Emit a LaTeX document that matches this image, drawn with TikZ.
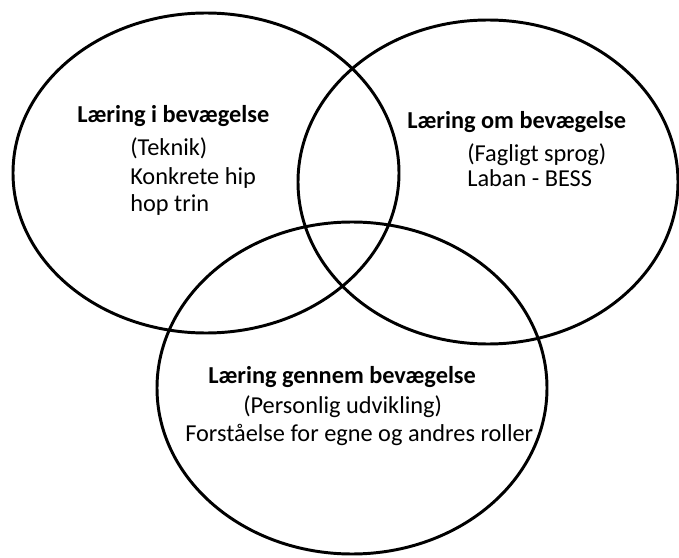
\documentclass[tikz,border=0pt]{standalone}
\usepackage{fontspec}
\setmainfont{Carlito}
\usetikzlibrary{positioning}

\begin{document}
\begin{tikzpicture}[x=0.025cm, y=-0.025cm]
    % Stilarter til ringe og tekst
    \tikzset{
        ring/.style={draw=black, line width=2.1pt},
        titel/.style={font=\fontsize{17.3}{20}\selectfont\bfseries, inner sep=0pt, anchor=base west},
        tekst/.style={font=\fontsize{17.3}{20}\selectfont, inner sep=0pt, anchor=base west}
    }
    \useasboundingbox (0,0) rectangle (679,558);

    % Venstre ring: i bevægelse
    \draw[ring] (206,173) ellipse [x radius=193, y radius=160];

    % Højre ring: om bevægelse
    \draw[ring] (488,182) ellipse [x radius=190, y radius=162];

    % Nederste ring: gennem bevægelse
    \draw[ring] (352,388) ellipse [x radius=195, y radius=166];

    % Tekst i venstre ring
    \node[titel] (iTitel) at (77,123) {Læring i bevægelse};
    \node[tekst] (iTeknik) at (130,156) {(Teknik)};
    \node[tekst] (iKonkret) at (130,184) {Konkrete hip};
    \node[tekst] (iTrin) at (130,211) {hop trin};

    % Tekst i højre ring
    \node[titel] (omTitel) at (407,129) {Læring om bevægelse};
    \node[tekst] (omSprog) at (467,161) {(Fagligt sprog)};
    \node[tekst] (omLaban) at (467,186) {Laban - BESS};

    % Tekst i nederste ring
    \node[titel] (gennemTitel) at (208,383) {Læring gennem bevægelse};
    \node[tekst] (gennemUnder) at (243,413) {(Personlig udvikling)};
    \node[tekst] (gennemRoller) at (185,441) {Forståelse for egne og andres roller};
\end{tikzpicture}
\end{document}
